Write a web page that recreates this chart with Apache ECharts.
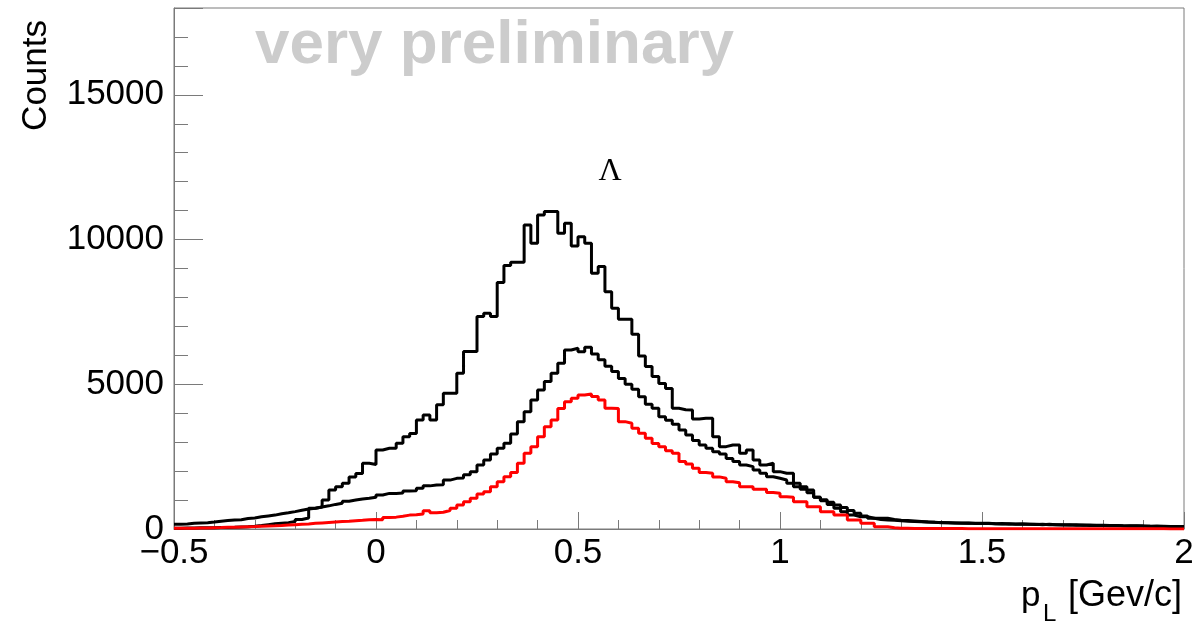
<!DOCTYPE html>
<html>
<head>
<meta charset="utf-8">
<script src="https://cdn.jsdelivr.net/npm/echarts@6/dist/echarts.min.js"></script>
<style>
html,body{margin:0;padding:0;background:#fff;}
#chart{width:1198px;height:625px;}
</style>
</head>
<body>
<div id="chart"></div>
<script>
// Histogram binning: 150 bins from -0.5 to 2.0 GeV/c
const X_MIN = -0.5;
const X_MAX = 2.0;
const N_BINS = 150;

// Upper black histogram (bin contents)
const blackUpper = [
  30, 35, 35, 40, 45, 45, 50, 55, 60, 70,
  80, 95, 120, 150, 180, 200, 220, 260, 330, 380,
  720, 760, 1000, 1350, 1460, 1580, 1800, 1920, 2270, 2230,
  2730, 2790, 2790, 2960, 3190, 3300, 3770, 3940, 3770, 4290,
  4690, 4690, 5380, 6130, 6130, 7340, 7450, 7340, 8520, 9100,
  9220, 9220, 10500, 9870, 10850, 10970, 10970, 10220, 10560, 9780,
  10100, 9870, 8840, 9070, 8200, 7630, 7250, 7250, 6730, 5980,
  5610, 5270, 5030, 4850, 4170, 4120, 4110, 3800, 3825, 3825,
  3190, 2845, 2900, 2900, 2615, 2730, 2385, 2212, 2270, 1982,
  1924, 1924, 1578, 1463, 1348, 1100, 980, 850, 714, 600,
  484, 426, 426, 369, 369, 369, 330, 300, 290, 280,
  260, 240, 230, 220, 220, 210, 200, 210, 190, 200,
  190, 185, 190, 175, 170, 175, 160, 165, 150, 160,
  145, 150, 140, 145, 130, 140, 125, 130, 120, 125,
  110, 105, 110, 100, 95, 100, 90, 85, 90, 80
];

// Middle black histogram
const blackMiddle = [
  160, 170, 200, 210, 220, 240, 270, 290, 310, 320,
  360, 380, 420, 450, 480, 530, 560, 600, 650, 690,
  720, 760, 800, 850, 890, 960, 1000, 1040, 1060, 1100,
  1175, 1230, 1230, 1240, 1310, 1320, 1405, 1490, 1520, 1530,
  1690, 1750, 1760, 1870, 1980, 2210, 2385, 2590, 2790, 2960,
  3280, 3709, 4055, 4458, 4804, 5092, 5380, 5726, 6186, 6244,
  6128, 6278, 6050, 5850, 5620, 5440, 5200, 5000, 4830, 4570,
  4310, 4170, 3880, 3760, 3620, 3420, 3250, 3060, 2900, 2790,
  2670, 2590, 2440, 2330, 2210, 2155, 2040, 1924, 1808, 1751,
  1693, 1578, 1463, 1371, 1256, 1100, 1010, 920, 830, 740,
  640, 541, 450, 370, 330, 311, 300, 285, 270, 260,
  250, 240, 230, 225, 215, 205, 210, 195, 200, 190,
  195, 180, 175, 185, 165, 170, 165, 155, 160, 145,
  150, 140, 145, 130, 135, 125, 130, 120, 115, 120,
  105, 110, 100, 105, 95, 90, 95, 85, 80, 85
];

// Red histogram
const redHist = [
  25, 28, 30, 35, 38, 45, 50, 58, 62, 70,
  78, 85, 95, 105, 110, 120, 135, 150, 165, 175,
  195, 210, 225, 240, 255, 265, 285, 300, 320, 330,
  320, 400, 410, 440, 480, 490, 520, 630, 560, 580,
  640, 714, 829, 945, 1060, 1210, 1290, 1463, 1636, 1808,
  1950, 2270, 2615, 2845, 3191, 3536, 3767, 4159, 4400, 4516,
  4631, 4666, 4574, 4458, 4170, 4159, 3709, 3652, 3479, 3306,
  3133, 2950, 2845, 2700, 2615, 2330, 2250, 2100, 1950, 1924,
  1800, 1751, 1636, 1600, 1463, 1463, 1371, 1371, 1260, 1233,
  1117, 1100, 945, 945, 772, 772, 600, 599, 484, 484,
  311, 311, 196, 196, 81, 81, 40, 30, 25, 20,
  20, 18, 18, 15, 15, 14, 14, 12, 12, 12,
  11, 11, 10, 10, 10, 9, 9, 9, 8, 8,
  8, 8, 7, 7, 7, 7, 6, 6, 6, 6,
  6, 5, 5, 5, 5, 5, 5, 4, 4, 4
];

// Axis ticks
const xTicks = [-0.5, 0, 0.5, 1, 1.5, 2];
const yTicks = [0, 5000, 10000, 15000];

const Y_MAX = 18000;

function toSteps(vals) {
  const bw = (X_MAX - X_MIN) / N_BINS;
  const pts = vals.map((v, i) => [X_MIN + i * bw, v]);
  pts.push([X_MAX, vals[vals.length - 1]]);
  return pts;
}

const FONT = "'Liberation Sans', Arial, Helvetica, sans-serif";
const chart = echarts.init(document.getElementById('chart'), null, {renderer: 'canvas'});

const axisGray = '#7a7a7a';

const option = {
  animation: false,
  backgroundColor: '#ffffff',
  grid: {
    left: 174, right: 14, top: 8, bottom: 96,
    show: true, borderColor: axisGray, borderWidth: 1, backgroundColor: 'transparent'
  },
  xAxis: {
    type: 'value', min: X_MIN, max: X_MAX, interval: 0.5,
    axisLine: {show: true, onZero: false, lineStyle: {color: axisGray, width: 1}},
    axisTick: {show: true, inside: true, length: 17, lineStyle: {color: axisGray}},
    minorTick: {show: true, splitNumber: 5, length: 9, lineStyle: {color: axisGray}},
    splitLine: {show: false},
    axisLabel: {
      show: true, margin: 7, color: '#000', fontFamily: FONT, fontSize: 35,
      formatter: function (v) {
        const t = xTicks.find(k => Math.abs(k - v) < 1e-9);
        if (t === undefined) return '';
        return String(t).replace('-', '\u2212');
      }
    }
  },
  yAxis: {
    type: 'value', min: 0, max: Y_MAX, interval: 5000,
    axisLine: {show: true, onZero: false, lineStyle: {color: axisGray, width: 1}},
    axisTick: {show: true, inside: true, length: 29, lineStyle: {color: axisGray}},
    minorTick: {show: true, splitNumber: 5, length: 14, lineStyle: {color: axisGray}},
    splitLine: {show: false},
    axisLabel: {
      show: true, margin: 10, color: '#000', fontFamily: FONT, fontSize: 35,
      formatter: function (v) {
        return yTicks.indexOf(v) >= 0 ? String(v) : '';
      }
    }
  },
  series: [
    {
      type: 'line', name: 'upper', step: 'end', showSymbol: false, symbol: 'none',
      data: toSteps(blackUpper), lineStyle: {color: '#000000', width: 3}, z: 3
    },
    {
      type: 'line', name: 'middle', step: 'end', showSymbol: false, symbol: 'none',
      data: toSteps(blackMiddle), lineStyle: {color: '#000000', width: 3}, z: 3
    },
    {
      type: 'line', name: 'red', step: 'end', showSymbol: false, symbol: 'none',
      data: toSteps(redHist), lineStyle: {color: '#ff0000', width: 3}, z: 4
    }
  ],
  graphic: [
    {
      type: 'text', x: 255, y: 46, z: 1,
      style: {text: 'very preliminary', fill: '#cccccc', font: 'bold 62px ' + FONT,
              align: 'left', verticalAlign: 'middle'}
    },
    {
      type: 'text', x: 610, y: 172, z: 10,
      style: {text: '\u039B', fill: '#000', font: "32px 'Liberation Serif', 'Times New Roman', serif",
              align: 'center', verticalAlign: 'middle'}
    },
    {
      type: 'text', x: 36, y: 20, rotation: Math.PI / 2, z: 10,
      style: {text: 'Counts', fill: '#000', font: '35px ' + FONT,
              align: 'right', verticalAlign: 'middle'}
    },
    {
      type: 'text', x: 1182, y: 596, z: 10,
      style: {text: '[Gev/c]', fill: '#000', font: '36px ' + FONT,
              align: 'right', verticalAlign: 'middle'}
    },
    {
      type: 'text', x: 1021, y: 596, z: 10,
      style: {text: 'p', fill: '#000', font: '35px ' + FONT,
              align: 'left', verticalAlign: 'middle'}
    },
    {
      type: 'text', x: 1043, y: 614, z: 10,
      style: {text: 'L', fill: '#000', font: '24px ' + FONT,
              align: 'left', verticalAlign: 'middle'}
    }
  ]
};

chart.setOption(option);
</script>
</body>
</html>
